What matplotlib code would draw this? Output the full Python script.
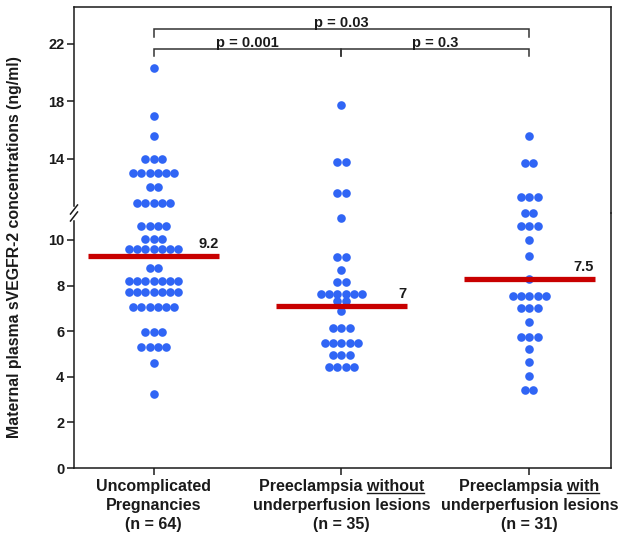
import numpy as np
import matplotlib
matplotlib.use("Agg")
import matplotlib.pyplot as plt
from matplotlib.lines import Line2D

plt.rcParams['font.family'] = ['Liberation Sans', 'DejaVu Sans']
plt.rcParams['font.weight'] = 'bold'

# ---------------- data ----------------
categories = ["Uncomplicated\nPregnancies\n(n = 64)",
              "Preeclampsia without\nunderperfusion lesions\n(n = 35)",
              "Preeclampsia with\nunderperfusion lesions\n(n = 31)"]
underlined_words = [None, "without", "with"]

# values above the axis break (upper segment) and below it (lower segment)
g1_upper = [20.3, 17.0, 15.6] + [14.0] * 3 + [13.0] * 6 + [12.0] * 2 + [10.9] * 5
g1_lower = ([10.6] * 4 + [10.05] * 3 + [9.6] * 7 + [8.75] * 2 + [8.2] * 7 + [7.7] * 7
            + [7.05] * 6 + [5.95] * 3 + [5.3] * 4 + [4.6] + [3.25])
g2_upper = [17.7] + [13.8] * 2 + [11.6] * 2
g2_lower = ([10.95] + [9.25] * 2 + [8.7] + [8.15] * 2 + [7.65] * 6 + [7.3] * 2 + [6.9]
            + [6.15] * 3 + [5.5] * 5 + [4.95] * 3 + [4.45] * 4)
g3_upper = [15.6] + [13.7] * 2 + [11.35] * 3
g3_lower = ([11.2] * 2 + [10.6] * 3 + [10.0] + [9.3] + [8.3] + [7.55] * 5 + [7.0] * 3
            + [6.4] + [5.75] * 3 + [5.2] + [4.65] + [4.05] + [3.4] * 2)

upper_groups = [g1_upper, g2_upper, g3_upper]
lower_groups = [g1_lower, g2_lower, g3_lower]

median_line = [9.3, 7.1, 8.3]
median_label = ["9.2", "7", "7.5"]

comparisons = [("p = 0.001", 1, 2), ("p = 0.3", 2, 3), ("p = 0.03", 1, 3)]

lower_ticks = [0, 2, 4, 6, 8, 10]
upper_ticks = [14, 18, 22]
ylabel = "Maternal plasma sVEGFR-2 concentrations (ng/ml)"

# ---------------- style ----------------
W, H = 624, 540
DOT = '#3065f5'
RED = '#c80000'
INK = '#1a1a1a'
LW = 1.1

fig = plt.figure(figsize=(W / 100, H / 100), dpi=100)


def fx(px):
    return px / W


def fy(py):
    return 1 - py / H


L, R, T, B, BRK = 74, 611, 7, 468, 213
ax_lo = fig.add_axes([fx(L), fy(B), (R - L) / W, (B - BRK) / H])
ax_hi = fig.add_axes([fx(L), fy(BRK), (R - L) / W, (BRK - T) / H], sharex=ax_lo)
ax_lo.patch.set_visible(False)
ax_hi.patch.set_visible(False)

ax_lo.set_xlim(0.576, 3.435)
ax_lo.set_ylim(0, 11.18)
ax_hi.set_ylim(10.22, 24.55)

for ax in (ax_lo, ax_hi):
    for s in ax.spines.values():
        s.set_linewidth(LW)
        s.set_color(INK)
    ax.tick_params(axis='y', length=5, width=LW, pad=2, labelsize=10.5, colors=INK)
ax_lo.spines['top'].set_visible(False)
ax_hi.spines['bottom'].set_visible(False)
ax_hi.spines['left'].set_bounds(10.71, 24.55)
ax_lo.spines['left'].set_bounds(0, 10.83)

ax_lo.set_yticks(lower_ticks)
ax_hi.set_yticks(upper_ticks)
ax_lo.set_xticks([1, 2, 3])
ax_lo.set_xticklabels(categories, fontsize=11.5, fontweight='bold', linespacing=1.33)
ax_lo.tick_params(axis='x', length=5, width=LW, pad=3, colors=INK)
ax_hi.tick_params(axis='x', bottom=False, labelbottom=False)

STEP = 0.0437


def row_layout(center, vals):
    xs, ys = [], []
    seen = []
    for v in vals:
        if v not in seen:
            seen.append(v)
    for v in seen:
        n = vals.count(v)
        offs = (np.arange(n) - (n - 1) / 2) * STEP
        xs.extend(center + offs)
        ys.extend([v] * n)
    return xs, ys


for i in range(3):
    c = i + 1
    xs, ys = row_layout(c, lower_groups[i])
    ax_lo.plot(xs, ys, 'o', ms=6.2, mew=0, color=DOT, clip_on=False, zorder=3)
    xs, ys = row_layout(c, upper_groups[i])
    ax_hi.plot(xs, ys, 'o', ms=6.2, mew=0, color=DOT, clip_on=False, zorder=3)
    m = median_line[i]
    ax_lo.plot([c - 0.35, c + 0.35], [m, m], color=RED, lw=3.8,
               solid_capstyle='butt', zorder=4)
    ax_lo.annotate(median_label[i], xy=(c + 0.35, m), xytext=(-1, 5),
                   textcoords='offset pixels', ha='right', va='bottom',
                   fontsize=10.5, fontweight='bold', color=INK)

# significance brackets (upper segment units)
levels = {(1, 2): 21.65, (2, 3): 21.65, (1, 3): 22.99}
drop = 0.54
for text, a, b in comparisons:
    y = levels[(a, b)]
    ax_hi.plot([a, a, b, b], [y - drop, y, y, y - drop], color='#333333',
               lw=1.1, clip_on=False, solid_joinstyle='miter')
    ax_hi.text((a + b) / 2, y + 0.14, text, ha='center', va='baseline',
               fontsize=10.5, fontweight='bold', color=INK)

# axis break marks
for cy in (209.5, 216.5):
    fig.add_artist(Line2D([fx(L - 3.5), fx(L + 3.5)], [fy(cy + 4.5), fy(cy - 4.5)],
                          transform=fig.transFigure, color=INK, lw=LW))

fig.text(fx(15), fy(247.5), ylabel, rotation=90, ha='center', va='center',
         fontsize=11.4, fontweight='bold', color=INK)

# underline words in tick labels
fig.canvas.draw()
renderer = fig.canvas.get_renderer()
for t, word in zip(ax_lo.get_xticklabels(), underlined_words):
    if not word:
        continue
    bb = t.get_window_extent(renderer)
    prop = t.get_fontproperties()
    line1 = t.get_text().split('\n')[0]
    w_line = renderer.get_text_width_height_descent(line1, prop, ismath=False)[0]
    w_word = renderer.get_text_width_height_descent(word, prop, ismath=False)[0]
    _, h_lp, d_lp = renderer.get_text_width_height_descent("lp", prop, ismath=False)
    xc = (bb.x0 + bb.x1) / 2
    x_end = xc + w_line / 2
    x_start = x_end - w_word
    y_ul = bb.y1 - (h_lp - d_lp) - 2
    fig.add_artist(Line2D([x_start / W, x_end / W], [y_ul / H, y_ul / H],
                          transform=fig.transFigure, color=INK, lw=1.0))

fig.savefig("out.png", dpi=100)
